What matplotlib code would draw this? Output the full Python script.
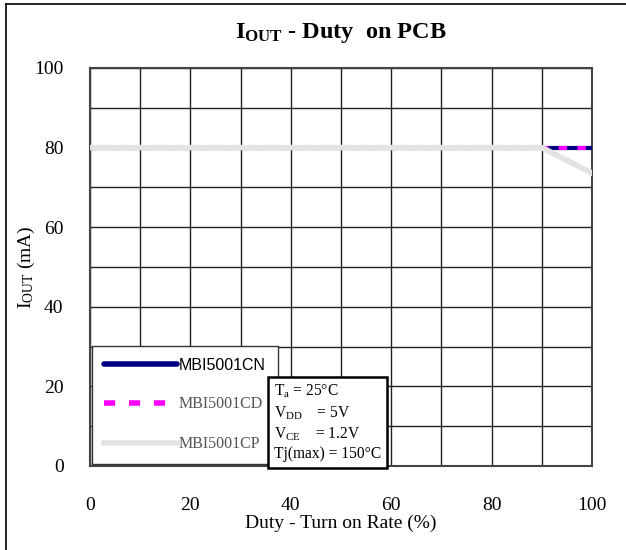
import matplotlib.pyplot as plt
import matplotlib as mpl
from matplotlib.lines import Line2D

# 数据
duty = [0, 10, 20, 30, 40, 50, 60, 70, 80, 90, 100]
iout_cn = [80, 80, 80, 80, 80, 80, 80, 80, 80, 80, 80]
iout_cd = [80, 80, 80, 80, 80, 80, 80, 80, 80, 80, 80]
iout_cp = [80, 80, 80, 80, 80, 80, 80, 80, 80, 80, 73.6]
x_ticks = [0, 20, 40, 60, 80, 100]
y_ticks = [0, 20, 40, 60, 80, 100]

mpl.rcParams['font.family'] = ['Liberation Serif', 'DejaVu Serif']
mpl.rcParams['mathtext.fontset'] = 'custom'
mpl.rcParams['mathtext.rm'] = 'Liberation Serif'
mpl.rcParams['mathtext.it'] = 'Liberation Serif'
mpl.rcParams['mathtext.bf'] = 'Liberation Serif:bold'

fig = plt.figure(figsize=(6.26, 5.5), dpi=100)
ax = fig.add_axes([90 / 626, 1 - 466 / 550, 502 / 626, 398 / 550])

# 外框（左、上）
fig.add_artist(Line2D([6 / 626, 6 / 626], [0, 1 - 4 / 550], color='black', lw=1.2))
fig.add_artist(Line2D([6 / 626, 1], [1 - 4 / 550, 1 - 4 / 550], color='black', lw=1.2))

ax.plot(duty, iout_cn, color='#000080', lw=3, solid_capstyle='round', label='MBI5001CN', zorder=3)
ax.plot(duty, iout_cd, color='#ff00ff', lw=3, ls=(0, (2, 2.5)), label='MBI5001CD', zorder=4)
ax.plot(duty, iout_cp, color='#e3e3e3', lw=4, label='MBI5001CP', zorder=5)

ax.set_xlim(0, 100)
ax.set_ylim(0, 100)
ax.set_xticks(x_ticks)
ax.set_yticks(y_ticks)
ax.set_xticks(range(0, 101, 10), minor=True)
ax.set_yticks(range(0, 101, 10), minor=True)
ax.grid(True, which='both', color='#222222', lw=1)
ax.tick_params(which='both', length=0)
ax.tick_params(axis='x', pad=22, labelsize=14)
ax.tick_params(axis='y', pad=19, labelsize=14)
for s in ax.spines.values():
    s.set_color('#444444')
    s.set_linewidth(1.5)

ax.set_title(r'I$_{\mathbf{OUT}}$ - Duty  on PCB', fontsize=17.5, fontweight='bold', y=1.055)
ax.set_xlabel('Duty - Turn on Rate (%)', fontsize=14, labelpad=1)
ax.set_ylabel(r'I$_{\rm OUT}$ (mA)', fontsize=14, labelpad=-2)

leg = ax.legend(loc='lower left', bbox_to_anchor=(0.0, 0.0), handlelength=4.6, handletextpad=0.1,
                labelspacing=1.5, fontsize=11.5, frameon=True, fancybox=False, framealpha=1,
                borderpad=0.75, borderaxespad=0.1)
leg.get_frame().set_edgecolor('#333333')
leg.get_frame().set_linewidth(1)
leg.set_zorder(6)
for h in leg.get_lines():
    h.set_linewidth(4)
texts = leg.get_texts()
texts[0].set_family(['Liberation Sans', 'DejaVu Sans'])
texts[0].set_color('black')
texts[1].set_color('#555555')
texts[2].set_color('#555555')

cond = ('T$_{\\rm a}$ = 25°C\n'
        'V$_{\\rm DD}$    = 5V\n'
        'V$_{\\rm CE}$    = 1.2V\n'
        'Tj(max) = 150°C')
ax.text(0.366, 0.009, cond, transform=ax.transAxes, fontsize=11.2, va='bottom', ha='left',
        linespacing=1.3, zorder=7,
        bbox=dict(boxstyle='square,pad=0.38', fc='white', ec='black', lw=1.8))

fig.savefig('out.png', dpi=100)
